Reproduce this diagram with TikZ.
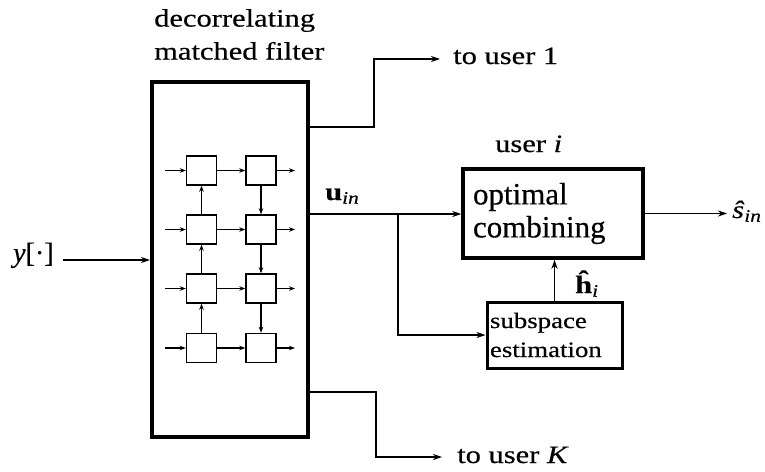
\documentclass[tikz,border=0pt]{standalone}
\usepackage{fontspec}
\setmainfont{Liberation Serif}[FakeStretch=1.22,FakeBold=0.4]
\newfontfamily\plainserif{Liberation Serif}[FakeBold=0.4]
\usetikzlibrary{arrows.meta,calc}
\begin{document}
\begin{tikzpicture}[x=1pt,y=-1pt,
  wire/.style={line width=1.2pt},
  conn/.style={line width=1.2pt,-{Stealth[length=9pt,width=6pt]}},
  tap/.style={line width=1.1pt,-{Stealth[length=6pt,width=4.5pt]}},
  cell/.style={draw,line width=1.4pt,minimum width=30pt,minimum height=29pt,inner sep=0pt},
  lbl/.style={inner sep=0pt,font=\fontsize{25}{33}\selectfont},
  blockbox/.style={draw,inner ysep=0pt,align=left}]
\useasboundingbox (0,0) rectangle (765,471);

% decorrelating matched filter bank
\node[draw,line width=4pt,minimum width=156pt,minimum height=355pt,inner sep=0pt] (dmf) at (230,259.5) {};
\node[lbl,anchor=north west,align=left] (title) at (154,9) {decorrelating\\matched filter};

% inner lattice of cells
\foreach \r/\yy in {1/170.5,2/229.5,3/288.5,4/348} {
  \node[cell] (a\r) at (201.5,\yy) {};
  \node[cell] (b\r) at (261,\yy) {};
  \coordinate (in\r) at (165,\yy);
  \coordinate (out\r) at (295,\yy);
  \draw[tap] (in\r) -- (a\r);
  \draw[tap] (a\r) -- (b\r);
  \draw[tap] (b\r) -- (out\r);
}
\foreach \r/\s in {1/2,2/3,3/4} {
  \draw[tap] (a\s) -- (a\r);
  \draw[tap] (b\r) -- (b\s);
}

% input
\node[lbl,anchor=base west,font=\plainserif\fontsize{28}{33}\selectfont] (ylab) at (13,262) {\textit{y}[·]};
\coordinate (yin) at (63,260);
\draw[conn] (yin) -- (yin -| dmf.west);

% user i processing
\node[lbl,anchor=base west] (useri) at (495,152) {user \textit{i}};
\node[blockbox,line width=3.5pt,text width=160pt,inner xsep=10pt,minimum height=89pt,
      font=\plainserif\fontsize{31}{33}\selectfont] (ocb) at (553,213.5) {optimal\\combining};
\node[blockbox,line width=3pt,text width=129pt,inner xsep=3pt,minimum height=66pt,
      font=\fontsize{22}{29}\selectfont] (sse) at (554.5,335) {subspace\\estimation};

% outputs of the filter bank
\coordinate (o1) at (308,127);
\coordinate (oi) at (308,214);
\coordinate (oK) at (308,392);
\coordinate (br) at (398,214);

\node[lbl,anchor=base west] (tu1) at (453,64) {to user 1};
\node[lbl,anchor=base west] (tuK) at (457,463) {to user \textit{K}};
\coordinate (e1) at (440,59);
\coordinate (eK) at (442,457);
\draw[conn] (o1) -- (374,127) -- (374,59) -- (e1);
\draw[conn] (oK) -- (376,392) -- (376,457) -- (eK);

\node[lbl,anchor=base west] (ulab) at (325,200) {\textbf{u}\textsubscript{\textit{in}}};
\draw[conn] (oi) -- (oi -| ocb.west);
\draw[conn] (br) |- (sse.west);
\draw[conn] (sse.north) -- (sse.north |- ocb.south);
\node[lbl,anchor=base west] (hlab) at (575,293) {\textbf{ĥ}\textsubscript{\textit{i}}};

\coordinate (sout) at (727,213.5);
\draw[conn] (ocb.east) -- (sout);
\node[lbl,anchor=base west] (slab) at (732,218) {\textit{ŝ}\textsubscript{\textit{in}}};
\end{tikzpicture}
\end{document}
